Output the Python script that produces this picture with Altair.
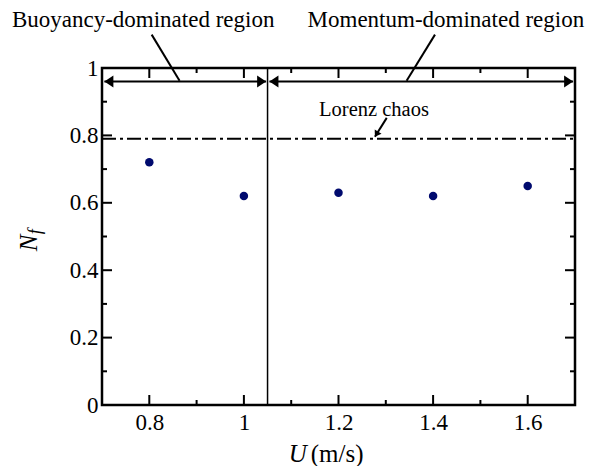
import altair as alt
import pandas as pd

# ---------------- data ----------------
u_vals = [0.8, 1.0, 1.2, 1.4, 1.6]
nf_vals = [0.72, 0.62, 0.63, 0.62, 0.65]
lorenz_level = 0.79
boundary_u = 1.05

x_major = [0.8, 1.0, 1.2, 1.4, 1.6]
x_minor = [0.9, 1.1, 1.3, 1.5]
y_major = [0, 0.2, 0.4, 0.6, 0.8, 1.0]
y_minor = [0.1, 0.3, 0.5, 0.7, 0.9]

region_labels = ["Buoyancy-dominated region", "Momentum-dominated region"]
region_label_u = [0.787, 1.427]
region_label_nf = [1.123, 1.123]
region_arrow_nf = 0.96
region_arrow_from = [0.705, 1.054]
region_arrow_to = [1.047, 1.696]
leader_u_start = [0.805, 1.404]
leader_nf_start = [1.099, 1.099]
leader_u_end = [0.864, 1.344]
leader_nf_end = [0.962, 0.962]

lorenz_label = ["Lorenz chaos"]
lorenz_label_u = [1.275]
lorenz_label_nf = [0.858]
lorenz_arrow_u = [1.302, 1.277]
lorenz_arrow_nf = [0.852, 0.796]

x_title_parts = ["U", "(m/s)"]
x_title_u = [1.0947, 1.1413]
x_title_nf = [-0.169, -0.169]
y_title_main = ["N"]
y_title_sub = ["f"]
y_title_u = [0.5636, 0.5711]
y_title_nf = [0.4807, 0.5065]

# ---------------- layout ----------------
W, H = 473, 337
X_DOMAIN = [0.7, 1.7]
Y_DOMAIN = [0, 1]
FONT = "'Liberation Serif', 'Times New Roman', Times, serif"

xs = alt.Scale(domain=X_DOMAIN, nice=False, zero=False)
ys = alt.Scale(domain=Y_DOMAIN, nice=False, zero=False)
x_axis = alt.Axis(values=x_major, format="~g", domain=False, ticks=False,
                  grid=False, labelFont=FONT, labelFontSize=23,
                  labelColor="black", labelPadding=6, title=None)
y_axis = alt.Axis(values=y_major, format="~g", domain=False, ticks=False,
                  grid=False, labelFont=FONT, labelFontSize=23,
                  labelColor="black", labelPadding=4, title=None)


def X(field):
    return alt.X(field, scale=xs, axis=x_axis)


def Y(field):
    return alt.Y(field, scale=ys, axis=y_axis)


dx_major = 10 / W * (X_DOMAIN[1] - X_DOMAIN[0])
dx_minor = 5 / W * (X_DOMAIN[1] - X_DOMAIN[0])
dy_major = 10 / H * (Y_DOMAIN[1] - Y_DOMAIN[0])
dy_minor = 5 / H * (Y_DOMAIN[1] - Y_DOMAIN[0])

tick_rows = []
for v in x_major:
    tick_rows.append(dict(x=v, x2=v, y=Y_DOMAIN[0], y2=Y_DOMAIN[0] + dy_major))
    tick_rows.append(dict(x=v, x2=v, y=Y_DOMAIN[1], y2=Y_DOMAIN[1] - dy_major))
for v in x_minor:
    tick_rows.append(dict(x=v, x2=v, y=Y_DOMAIN[0], y2=Y_DOMAIN[0] + dy_minor))
    tick_rows.append(dict(x=v, x2=v, y=Y_DOMAIN[1], y2=Y_DOMAIN[1] - dy_minor))
for v in y_major:
    tick_rows.append(dict(x=X_DOMAIN[0], x2=X_DOMAIN[0] + dx_major, y=v, y2=v))
    tick_rows.append(dict(x=X_DOMAIN[1], x2=X_DOMAIN[1] - dx_major, y=v, y2=v))
for v in y_minor:
    tick_rows.append(dict(x=X_DOMAIN[0], x2=X_DOMAIN[0] + dx_minor, y=v, y2=v))
    tick_rows.append(dict(x=X_DOMAIN[1], x2=X_DOMAIN[1] - dx_minor, y=v, y2=v))
ticks_df = pd.DataFrame(tick_rows)

points_df = pd.DataFrame({"x": u_vals, "y": nf_vals})

points = alt.Chart(points_df).mark_point(
    filled=True, shape="circle", size=72, color="#000a6e", opacity=1
).encode(x=X("x:Q"), y=Y("y:Q"))

ticks = alt.Chart(ticks_df).mark_rule(color="black", strokeWidth=2).encode(
    x=X("x:Q"), x2="x2:Q", y=Y("y:Q"), y2="y2:Q",
)

lorenz_df = pd.DataFrame({"x": [X_DOMAIN[0]], "x2": [X_DOMAIN[1]], "y": [lorenz_level]})
lorenz_line = alt.Chart(lorenz_df).mark_rule(
    color="black", strokeWidth=2, strokeDash=[14, 4, 3, 4]
).encode(x=X("x:Q"), x2="x2:Q", y=Y("y:Q"))

bound_df = pd.DataFrame({"x": [boundary_u], "y": [Y_DOMAIN[0]], "y2": [Y_DOMAIN[1]]})
bound_line = alt.Chart(bound_df).mark_rule(color="black", strokeWidth=1.5).encode(
    x=X("x:Q"), y=Y("y:Q"), y2="y2:Q",
)

arrows_df = pd.DataFrame({"x": region_arrow_from, "x2": region_arrow_to,
                          "y": [region_arrow_nf] * 2})
arrow_lines = alt.Chart(arrows_df).mark_rule(color="black", strokeWidth=2).encode(
    x=X("x:Q"), x2="x2:Q", y=Y("y:Q"),
)
left_heads = alt.Chart(pd.DataFrame({"x": region_arrow_from, "y": [region_arrow_nf] * 2})).mark_point(
    shape="M0,0L1.5,-1L1.5,1Z", filled=True, size=144, color="black", opacity=1
).encode(x=X("x:Q"), y=Y("y:Q"))
right_heads = alt.Chart(pd.DataFrame({"x": region_arrow_to, "y": [region_arrow_nf] * 2})).mark_point(
    shape="M0,0L-1.5,-1L-1.5,1Z", filled=True, size=144, color="black", opacity=1
).encode(x=X("x:Q"), y=Y("y:Q"))

leaders_df = pd.DataFrame({"x": leader_u_start, "y": leader_nf_start,
                           "x2": leader_u_end, "y2": leader_nf_end})
leaders = alt.Chart(leaders_df).mark_rule(color="black", strokeWidth=2).encode(
    x=X("x:Q"), x2="x2:Q", y=Y("y:Q"), y2="y2:Q",
)

region_text = alt.Chart(pd.DataFrame({"t": region_labels, "x": region_label_u,
                                      "y": region_label_nf})).mark_text(
    font=FONT, fontSize=23, color="black", align="center", baseline="alphabetic"
).encode(x=X("x:Q"), y=Y("y:Q"), text="t:N")

lorenz_text = alt.Chart(pd.DataFrame({"t": lorenz_label, "x": lorenz_label_u,
                                      "y": lorenz_label_nf})).mark_text(
    font=FONT, fontSize=20.5, color="black", align="center", baseline="alphabetic"
).encode(x=X("x:Q"), y=Y("y:Q"), text="t:N")

lorenz_arrow_df = pd.DataFrame({"x": [lorenz_arrow_u[0]], "y": [lorenz_arrow_nf[0]],
                                "x2": [lorenz_arrow_u[1]], "y2": [lorenz_arrow_nf[1]]})
lorenz_arrow_line = alt.Chart(lorenz_arrow_df).mark_rule(color="black", strokeWidth=2).encode(
    x=X("x:Q"), x2="x2:Q", y=Y("y:Q"), y2="y2:Q",
)
lorenz_head = alt.Chart(pd.DataFrame({"x": [lorenz_arrow_u[1]], "y": [lorenz_arrow_nf[1]]})).mark_point(
    shape="M0,0L-1.5,-1L-1.5,1Z", filled=True, size=64, color="black", opacity=1, angle=122
).encode(x=X("x:Q"), y=Y("y:Q"))

xt_df = pd.DataFrame({"t": x_title_parts, "x": x_title_u, "y": x_title_nf})
x_title_u_mark = alt.Chart(xt_df.iloc[[0]]).mark_text(
    font=FONT, fontSize=25, fontStyle="italic", color="black", align="left", baseline="alphabetic"
).encode(x=X("x:Q"), y=Y("y:Q"), text="t:N")
x_title_rest = alt.Chart(xt_df.iloc[[1]]).mark_text(
    font=FONT, fontSize=25, color="black", align="left", baseline="alphabetic"
).encode(x=X("x:Q"), y=Y("y:Q"), text="t:N")

y_title_main_mark = alt.Chart(pd.DataFrame({"t": y_title_main, "x": [y_title_u[0]],
                                            "y": [y_title_nf[0]]})).mark_text(
    font=FONT, fontSize=25, fontStyle="italic", color="black", align="center",
    baseline="alphabetic", angle=270
).encode(x=X("x:Q"), y=Y("y:Q"), text="t:N")
y_title_sub_mark = alt.Chart(pd.DataFrame({"t": y_title_sub, "x": [y_title_u[1]],
                                           "y": [y_title_nf[1]]})).mark_text(
    font=FONT, fontSize=18, fontStyle="italic", color="black", align="left",
    baseline="alphabetic", angle=270
).encode(x=X("x:Q"), y=Y("y:Q"), text="t:N")

chart = alt.layer(
    points, ticks, lorenz_line, bound_line, arrow_lines, left_heads, right_heads, leaders,
    region_text, lorenz_text, lorenz_arrow_line, lorenz_head,
    x_title_u_mark, x_title_rest, y_title_main_mark, y_title_sub_mark,
).properties(
    width=W, height=H,
    autosize=alt.AutoSizeParams(type="none"),
    padding={"left": 94, "top": 60, "right": 13, "bottom": 61},
    background="white",
).configure_view(stroke="black", strokeWidth=2.5)

chart.save("out.html", embed_options={"renderer": "svg", "actions": False})
